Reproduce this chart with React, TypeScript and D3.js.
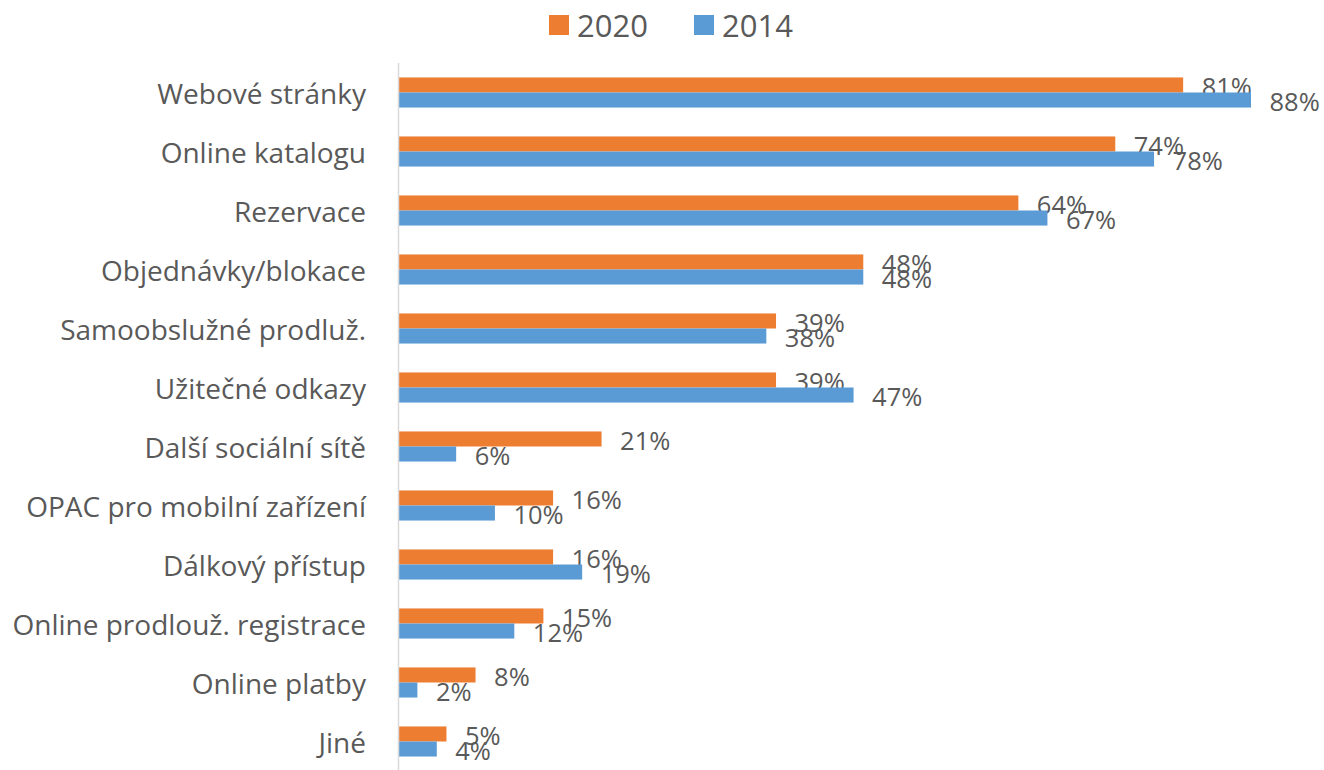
import React from "react";
import * as d3 from "d3";

const categories = [
  "Webové stránky",
  "Online katalogu",
  "Rezervace",
  "Objednávky/blokace",
  "Samoobslužné prodluž.",
  "Užitečné odkazy",
  "Další sociální sítě",
  "OPAC pro mobilní zařízení",
  "Dálkový přístup",
  "Online prodlouž. registrace",
  "Online platby",
  "Jiné",
];
const values2020 = [81, 74, 64, 48, 39, 39, 21, 16, 16, 15, 8, 5];
const values2014 = [88, 78, 67, 48, 38, 47, 6, 10, 19, 12, 2, 4];
const seriesNames = ["2020", "2014"];
const seriesColors = ["#ED7D31", "#5B9BD5"];

const W = 1324;
const H = 770;
const FONT = "'Open Sans', sans-serif";
const TEXT = "#595959";

export default function App() {
  const x = d3.scaleLinear().domain([0, 88]).range([398, 1251]);
  const y = d3.scaleBand<string>().domain(categories).range([63, 771]).paddingInner(0.49).paddingOuter(0.245);
  const bw = y.bandwidth() / 2;
  const series = [values2020, values2014];

  return (
    <svg width={W} height={H} style={{ position: "absolute", left: 0, top: 0, background: "#fff" }}>
      <g fontFamily={FONT}>
        {/* legend */}
        {seriesNames.map((s, i) => {
          const lx = [549, 694][i];
          return (
            <g key={s}>
              <rect x={lx} y={15} width={20} height={20} fill={seriesColors[i]} />
              <text x={lx + 28} y={25} dominantBaseline="central" fontSize={31} fill={TEXT}>
                {s}
              </text>
            </g>
          );
        })}
        {/* bars */}
        {categories.map((c, ci) => (
          <g key={c}>
            {series.map((vals, si) => {
              const by = (y(c) as number) + si * bw;
              return (
                <g key={si}>
                  <rect x={x(0)} y={by} width={x(vals[ci]) - x(0)} height={bw} fill={seriesColors[si]} />
                  <text
                    x={x(vals[ci]) + 18.5}
                    y={by + bw / 2 + 1}
                    dominantBaseline="central"
                    fontSize={25.5}
                    fill={TEXT}
                  >
                    {vals[ci]}%
                  </text>
                </g>
              );
            })}
            <text
              x={366}
              y={(y(c) as number) + bw}
              textAnchor="end"
              dominantBaseline="central"
              fontSize={28}
              fill={TEXT}
            >
              {c}
            </text>
          </g>
        ))}
        <line x1={398.5} x2={398.5} y1={63} y2={770} stroke="#D9D9D9" strokeWidth={1.5} />
      </g>
    </svg>
  );
}
